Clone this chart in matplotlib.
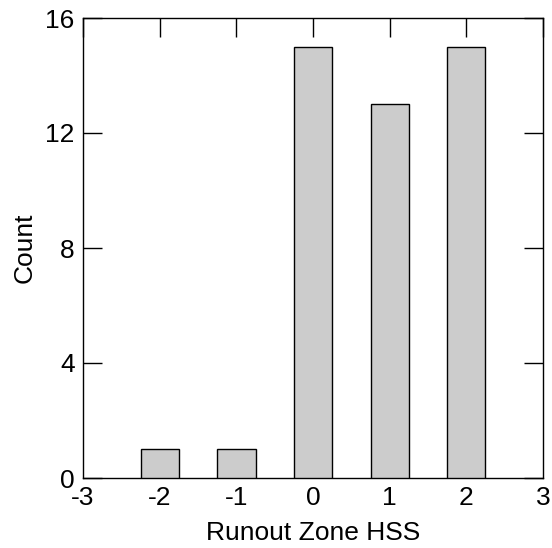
import matplotlib.pyplot as plt

plt.rcParams['font.family'] = ['Liberation Sans', 'DejaVu Sans']
plt.rcParams['axes.unicode_minus'] = False

# Histogram of runout zone HSS scores
hss = [-2, -1, 0, 1, 2]
counts = [1, 1, 15, 13, 15]
xticks = [-3, -2, -1, 0, 1, 2, 3]
yticks = [0, 4, 8, 12, 16]

fig = plt.figure(figsize=(5.52, 5.48), dpi=100)
ax = fig.add_axes([83 / 552, 1 - 478 / 548, 460 / 552, 460 / 548])

ax.bar(hss, counts, width=0.5, color='#cccccc', edgecolor='black', linewidth=1.0, zorder=3)

ax.set_xlim(-3, 3)
ax.set_ylim(0, 16)
ax.set_xticks(xticks)
ax.set_yticks(yticks)
ax.tick_params(direction='in', length=14, width=1, labelsize=19, pad=6,
               top=True, bottom=False, right=True, left=True)
for s in ax.spines.values():
    s.set_linewidth(1.0)

ax.set_xlabel('Runout Zone HSS', fontsize=19, labelpad=8)
ax.set_ylabel('Count', fontsize=19, labelpad=6)

fig.savefig('out.png', dpi=100)
